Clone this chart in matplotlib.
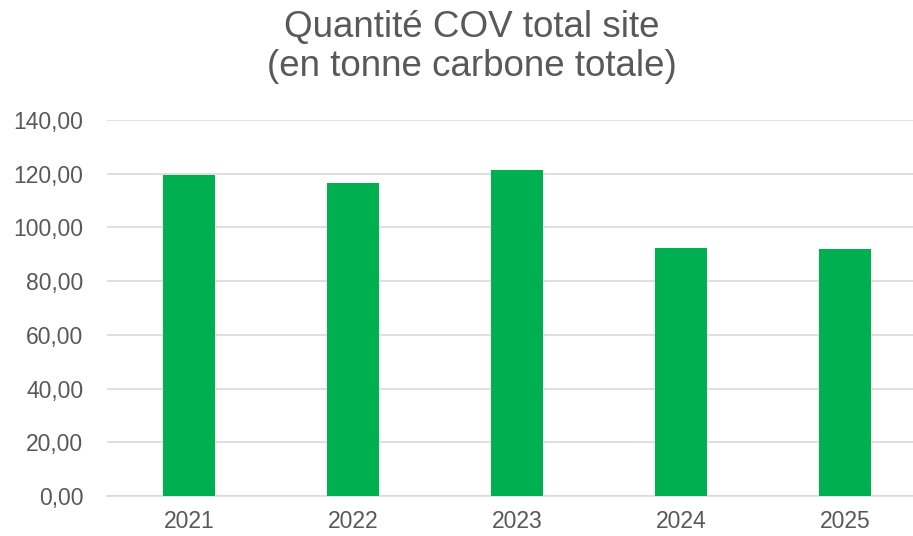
import matplotlib
matplotlib.use("Agg")
import matplotlib.pyplot as plt
from matplotlib.ticker import FuncFormatter

years = ["2021", "2022", "2023", "2024", "2025"]
values = [119.6, 116.7, 121.3, 92.3, 91.9]
yticks = [0, 20, 40, 60, 80, 100, 120, 140]

plt.rcParams['font.family'] = ['Liberation Sans', 'DejaVu Sans']
fig = plt.figure(figsize=(9.13, 5.36), dpi=100)
ax = fig.add_axes([107/913, 1 - 496/536, 820/913, 376/536])
x = list(range(len(years)))
ax.bar(x, values, width=0.32, color="#00B050", zorder=3)
ax.set_xlim(-0.5, 4.5)
ax.set_ylim(0, 140)
ax.set_yticks(yticks)
ax.yaxis.set_major_formatter(FuncFormatter(lambda v, p: f"{v:.2f}".replace(".", ",")))
ax.set_xticks(x)
ax.set_xticklabels(years)
ax.grid(axis="y", color="#D9D9D9", linewidth=1.2, zorder=0)
for s in ["top", "right", "left"]:
    ax.spines[s].set_visible(False)
ax.spines["bottom"].set_color("#D9D9D9")
ax.spines["bottom"].set_linewidth(1.2)
ax.tick_params(axis="both", length=0, labelsize=16.5, colors="#595959")
ax.tick_params(axis="x", pad=10)
ax.tick_params(axis="y", pad=17)
fig.text(472/913, 1 - 47/536, "Quantité COV total site\n(en tonne carbone totale)",
         ha="center", va="center", fontsize=26.5, color="#595959", linespacing=1.15)
fig.savefig("out.png", dpi=100)
